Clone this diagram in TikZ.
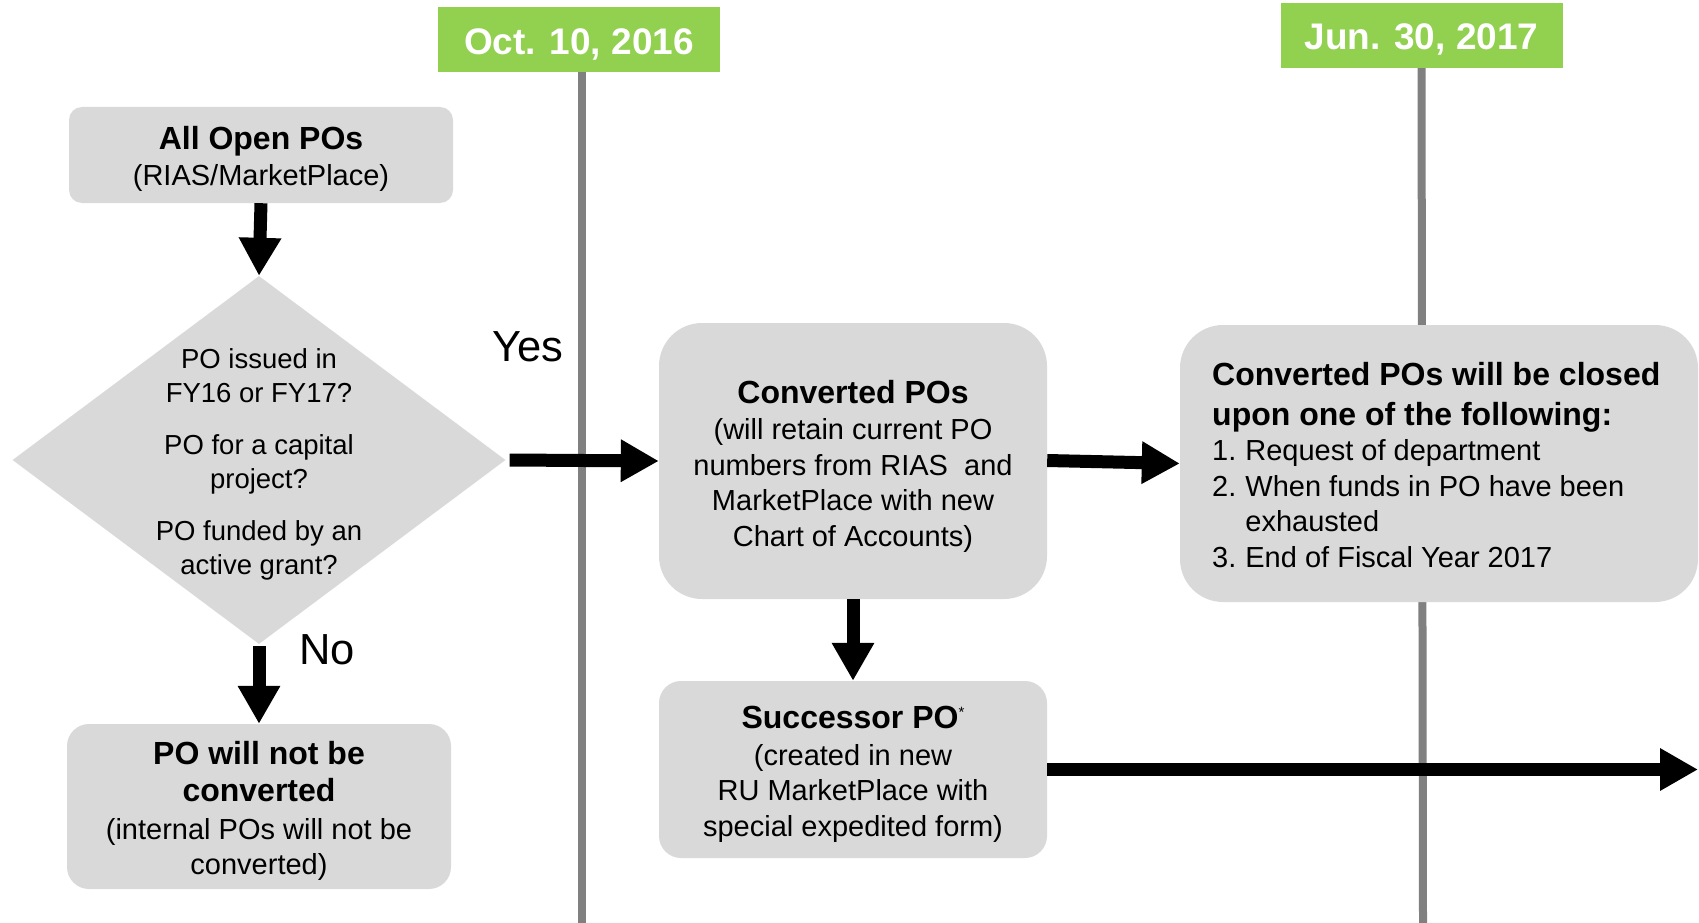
\documentclass[tikz,border=0pt]{standalone}
\usepackage{fontspec}
\setmainfont{Liberation Sans}
\usetikzlibrary{arrows.meta,shapes.geometric}

\definecolor{datebg}{HTML}{92D050}
\definecolor{boxbg}{HTML}{D9D9D9}
\definecolor{timeline}{HTML}{808080}

\newcommand{\regtext}{\fontsize{29}{35.5}\selectfont}
\newcommand{\headtext}{\fontsize{32}{37}\selectfont\bfseries}
\newcommand{\asktext}{\fontsize{27.5}{33.5}\selectfont}

\tikzset{
  datebox/.style={fill=datebg, minimum width=282pt, minimum height=65pt, inner sep=0pt},
  datetext/.style={text=white, font=\fontsize{37}{40}\selectfont\bfseries, inner sep=0pt},
  grayline/.style={draw=timeline, line width=8pt},
  procbox/.style={fill=boxbg, inner sep=0pt},
  boxtext/.style={align=center, inner sep=0pt, font=\regtext},
  question/.style={diamond, fill=boxbg, inner sep=0pt,
    minimum width=493pt, minimum height=368pt},
  flow/.style={line width=13pt, -{Triangle[length=38pt,width=40pt]}},
  answer/.style={font=\fontsize{43.5}{46}\selectfont}
}

\begin{document}
\begin{tikzpicture}[x=1pt,y=-1pt]
\useasboundingbox (0,0) rectangle (1699,923);

% timeline markers
\node[datebox] (oct) at (579,39.5) {};
\node[datetext] (octtext) at (579,44) {Oct. 10, 2016};
\node[datebox] (jun) at (1421.5,35.5) {};
\node[datetext] (juntext) at (1421.5,39.5) {Jun. 30, 2017};
\coordinate (octend) at (582,923);
\coordinate (junend) at (1423,923);
\draw[grayline] (oct.south -| octend) -- (octend);
\draw[grayline] (jun.south) -- (junend);

% process boxes
\node[procbox, minimum width=384pt, minimum height=96pt, rounded corners=13pt]
  (open) at (261,155) {};
\node[boxtext] (opentext) at (261,159)
  {{\headtext All Open POs}\\(RIAS/MarketPlace)};

\node[question] (ask) at (259,460) {};
\node[boxtext, font=\asktext] (asktext) at (259,464.5)
  {PO issued in\\FY16 or FY17?\\[19pt]PO for a capital\\project?\\[19pt]PO funded by an\\active grant?};

\node[procbox, minimum width=388pt, minimum height=276pt, rounded corners=43pt]
  (conv) at (853,461) {};
\node[boxtext] (convtext) at (853,466)
  {{\headtext Converted POs}\\[1pt](will retain current PO\\numbers from RIAS~ and\\MarketPlace with new\\Chart of Accounts)};

\node[procbox, minimum width=518pt, minimum height=277pt, rounded corners=43pt]
  (closed) at (1439,463.5) {};
\node[anchor=north west, align=left, inner sep=0pt, font=\regtext]
  (closedtext) at (1212,362.5)
  {{\headtext Converted POs will be closed}\\[4pt]
   {\headtext upon one of the following:}\\
   1.\hspace{9pt}Request of department\\
   2.\hspace{9pt}When funds in PO have been\\
   \hphantom{2.}\hspace{9pt}exhausted\\
   3.\hspace{9pt}End of Fiscal Year 2017};

\node[procbox, minimum width=388pt, minimum height=177pt, rounded corners=22pt]
  (succ) at (853,769.5) {};
\node[boxtext] (succtext) at (853,774.5)
  {{\headtext Successor PO}\raisebox{11pt}{\fontsize{15}{15}\selectfont *}\\[1pt](created in new\\RU MarketPlace with\\special expedited form)};

\node[procbox, minimum width=384pt, minimum height=165pt, rounded corners=22pt]
  (notconv) at (259,806.5) {};
\node[boxtext] (notconvtext) at (259,811)
  {{\headtext PO will not be}\\[2pt]{\headtext converted}\\[2pt](internal POs will not be\\converted)};

\coordinate (farend) at (1698,769.5);

% connectors
\draw[flow] (open.south) -- (ask.north);
\draw[flow] ([yshift=-2pt]ask.south) -- (notconv.north);
\draw[flow] ([xshift=4pt]ask.east) -- (conv.west);
\draw[flow] (conv.south) -- (succ.north);
\draw[flow] ([yshift=0.5pt]conv.east) -- (closed.west);
\draw[flow] (succ.east) -- (farend);

% decision labels
\node[answer] (yes) at (528,347) {Yes};
\node[answer] (no) at (327,650) {No};
\end{tikzpicture}
\end{document}
